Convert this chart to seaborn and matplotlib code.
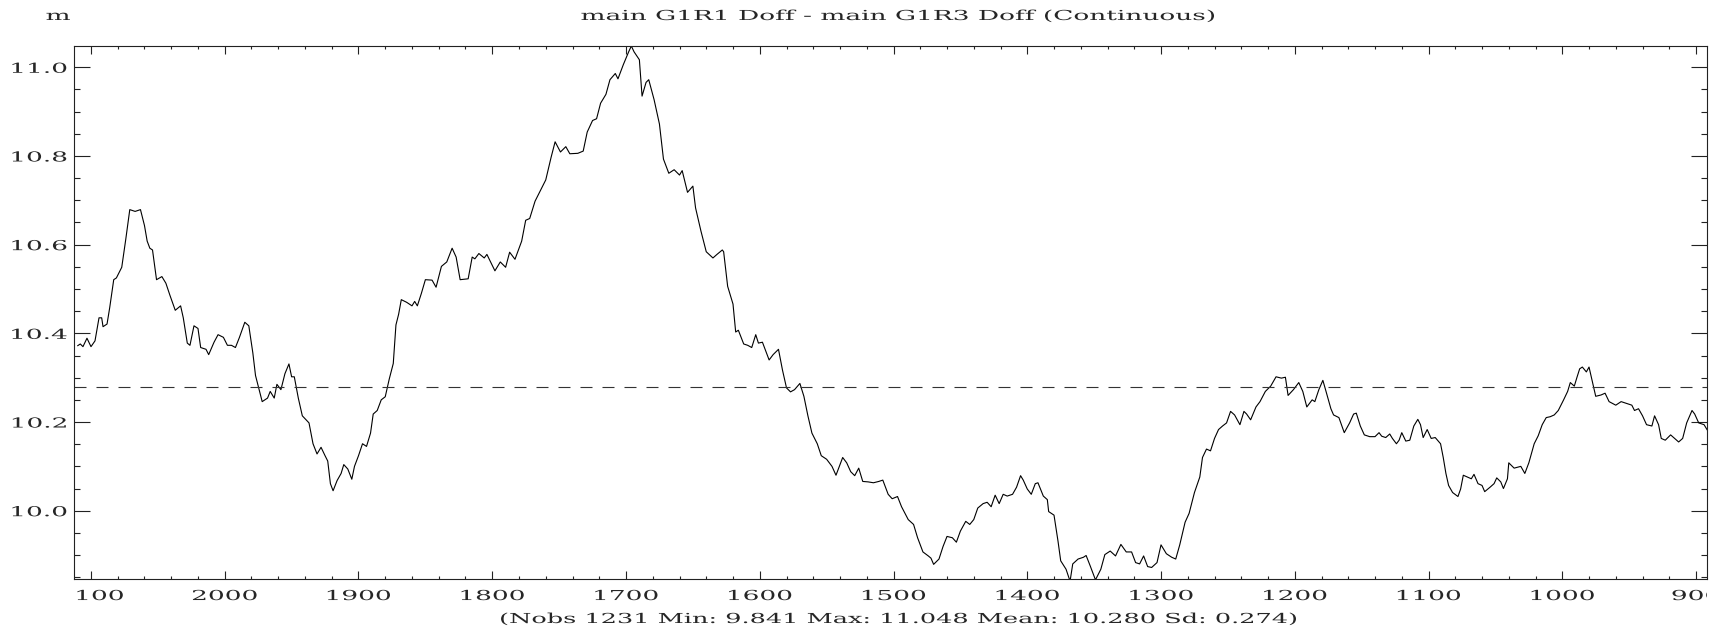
import numpy as np
import pandas as pd
import matplotlib
matplotlib.use("Agg")
import matplotlib.pyplot as plt
import seaborn as sns
from matplotlib.patheffects import AbstractPathEffect
from matplotlib.transforms import Affine2D, Bbox, TransformedBbox
from matplotlib.ticker import MultipleLocator, FixedLocator

# series, one block per stretch of the x axis (x runs backwards)
obs_2110 = [2110, 2108, 2106, 2103, 2100, 2097, 2094, 2092, 2091, 2088, 2086, 2083, 2081, 2077, 2074,
            2071, 2067, 2063, 2060, 2058, 2056, 2054, 2051, 2047, 2044, 2041, 2037, 2033, 2031, 2028,
            2026, 2023, 2020, 2018, 2014, 2012, 2008, 2005, 2001, 1998, 1995, 1992, 1989, 1985, 1982,
            1979, 1977, 1972, 1968, 1966, 1963, 1961, 1958, 1955, 1952, 1950, 1948, 1945, 1942, 1937,
            1934, 1931, 1928, 1925, 1923, 1921, 1919, 1916, 1913, 1911, 1908, 1905, 1903, 1900, 1897,
            1894, 1891, 1889, 1886, 1883, 1880, 1877]
val_2110 = [10.372, 10.376, 10.370, 10.389, 10.370, 10.383, 10.435, 10.435, 10.415, 10.421, 10.458, 10.521, 10.525, 10.549, 10.612,
            10.679, 10.675, 10.679, 10.643, 10.608, 10.592, 10.588, 10.521, 10.528, 10.513, 10.486, 10.452, 10.462, 10.435, 10.378,
            10.373, 10.417, 10.411, 10.368, 10.364, 10.352, 10.380, 10.397, 10.391, 10.373, 10.373, 10.368, 10.391, 10.425, 10.417,
            10.356, 10.305, 10.246, 10.254, 10.269, 10.254, 10.285, 10.273, 10.309, 10.331, 10.302, 10.302, 10.254, 10.214, 10.198,
            10.151, 10.128, 10.143, 10.124, 10.112, 10.061, 10.045, 10.068, 10.084, 10.104, 10.094, 10.071, 10.100, 10.124, 10.151,
            10.145, 10.175, 10.218, 10.226, 10.250, 10.257, 10.297]

obs_1874 = [1874, 1872, 1870, 1868, 1864, 1860, 1858, 1856, 1853, 1850, 1845, 1842, 1838, 1834, 1830,
            1827, 1824, 1818, 1815, 1813, 1810, 1806, 1804, 1800, 1798, 1794, 1790, 1787, 1783, 1778,
            1775, 1772, 1768, 1764, 1760, 1756, 1753, 1749, 1745, 1742, 1736, 1732, 1729, 1725, 1722,
            1719, 1715, 1712, 1708, 1706, 1702, 1698, 1696, 1694, 1690, 1688, 1685, 1683, 1679, 1675,
            1672, 1668, 1664, 1660, 1658, 1654, 1650, 1648, 1644, 1640, 1635, 1632, 1628]
val_1874 = [10.332, 10.419, 10.443, 10.476, 10.470, 10.462, 10.472, 10.462, 10.490, 10.521, 10.520, 10.504, 10.551, 10.561, 10.592,
            10.572, 10.521, 10.523, 10.572, 10.568, 10.580, 10.570, 10.578, 10.553, 10.541, 10.561, 10.549, 10.583, 10.567, 10.608,
            10.655, 10.659, 10.698, 10.722, 10.746, 10.797, 10.832, 10.809, 10.821, 10.805, 10.806, 10.811, 10.854, 10.880, 10.884,
            10.919, 10.939, 10.972, 10.986, 10.974, 11.006, 11.035, 11.048, 11.035, 11.017, 10.935, 10.966, 10.972, 10.927, 10.872,
            10.793, 10.761, 10.769, 10.757, 10.767, 10.718, 10.732, 10.683, 10.631, 10.584, 10.570, 10.578, 10.588]

obs_1627 = [1627, 1624, 1620, 1618, 1616, 1612, 1609, 1606, 1603, 1601, 1598, 1595, 1593, 1590, 1586,
            1583, 1580, 1577, 1574, 1570, 1567, 1564, 1561, 1557, 1554, 1550, 1546, 1543, 1538, 1535,
            1532, 1529, 1526, 1523, 1519, 1515, 1511, 1508, 1504, 1501, 1497, 1494, 1489, 1485, 1482,
            1478, 1474, 1472, 1470, 1466, 1463, 1460, 1456, 1453, 1450, 1446, 1443, 1440, 1437, 1433,
            1430, 1427, 1424, 1421, 1418, 1415, 1411, 1408, 1405, 1403, 1400, 1397, 1394, 1392, 1388, 1385]
val_1627 = [10.584, 10.506, 10.466, 10.403, 10.407, 10.376, 10.373, 10.368, 10.397, 10.378, 10.380, 10.356, 10.340, 10.352, 10.364,
            10.317, 10.277, 10.268, 10.273, 10.287, 10.258, 10.214, 10.175, 10.151, 10.124, 10.116, 10.100, 10.080, 10.120, 10.108,
            10.088, 10.079, 10.096, 10.066, 10.065, 10.063, 10.066, 10.069, 10.037, 10.027, 10.032, 10.009, 9.980, 9.969, 9.939,
            9.907, 9.898, 9.893, 9.879, 9.891, 9.919, 9.942, 9.939, 9.929, 9.954, 9.976, 9.969, 9.980, 10.006, 10.016,
            10.019, 10.009, 10.035, 10.016, 10.037, 10.033, 10.037, 10.053, 10.079, 10.069, 10.049, 10.037, 10.061, 10.063, 10.033, 10.025]

obs_1384 = [1384, 1380, 1377, 1375, 1371, 1368, 1366, 1362, 1358, 1356, 1353, 1349, 1345, 1342, 1338,
            1334, 1330, 1326, 1322, 1319, 1316, 1313, 1310, 1307, 1303, 1300, 1296, 1292, 1289, 1286,
            1282, 1279, 1275, 1271, 1269, 1266, 1263, 1260, 1257, 1254, 1251, 1248, 1245, 1241, 1238,
            1236, 1233, 1229, 1226, 1222, 1218, 1214, 1210, 1207, 1205, 1201, 1197, 1194, 1191, 1187,
            1185, 1182, 1179, 1177, 1173, 1171, 1167, 1163, 1159, 1156, 1154, 1151, 1148, 1144, 1140, 1137]
val_1384 = [9.998, 9.990, 9.931, 9.887, 9.868, 9.841, 9.880, 9.891, 9.895, 9.899, 9.876, 9.844, 9.868, 9.901, 9.909,
            9.898, 9.924, 9.907, 9.907, 9.883, 9.880, 9.898, 9.874, 9.872, 9.883, 9.923, 9.903, 9.895, 9.891, 9.923,
            9.974, 9.994, 10.041, 10.076, 10.120, 10.139, 10.135, 10.163, 10.183, 10.191, 10.198, 10.224, 10.216, 10.194, 10.224,
            10.218, 10.205, 10.234, 10.246, 10.269, 10.281, 10.302, 10.299, 10.301, 10.260, 10.273, 10.289, 10.269, 10.234, 10.250,
            10.246, 10.273, 10.294, 10.273, 10.230, 10.216, 10.210, 10.176, 10.198, 10.218, 10.220, 10.191, 10.171, 10.167, 10.167, 10.176]

obs_1135 = [1135, 1132, 1129, 1127, 1124, 1122, 1120, 1117, 1114, 1111, 1108, 1106, 1104, 1101, 1098,
            1095, 1091, 1089, 1087, 1085, 1082, 1078, 1076, 1074, 1071, 1068, 1066, 1063, 1060, 1058,
            1054, 1051, 1049, 1046, 1044, 1041, 1040, 1036, 1031, 1028, 1025, 1021, 1018, 1015, 1012,
            1009, 1006, 1003, 999, 996, 994, 991, 989, 987, 985, 982, 980, 977, 975, 971,
            968, 965, 960, 956, 952, 948, 946, 943, 940, 937, 933, 931, 928, 926, 923,
            919, 916, 913, 910, 907, 903, 901, 898, 894, 891]
val_1135 = [10.168, 10.165, 10.173, 10.163, 10.151, 10.159, 10.176, 10.157, 10.159, 10.191, 10.206, 10.194, 10.165, 10.183, 10.163,
            10.165, 10.151, 10.120, 10.084, 10.057, 10.041, 10.032, 10.049, 10.080, 10.076, 10.072, 10.082, 10.061, 10.057, 10.043,
            10.053, 10.061, 10.074, 10.065, 10.050, 10.072, 10.108, 10.096, 10.100, 10.084, 10.108, 10.151, 10.169, 10.194, 10.210,
            10.212, 10.216, 10.226, 10.250, 10.269, 10.289, 10.281, 10.301, 10.320, 10.324, 10.313, 10.324, 10.285, 10.258, 10.261,
            10.265, 10.246, 10.238, 10.246, 10.242, 10.238, 10.226, 10.230, 10.214, 10.194, 10.191, 10.214, 10.194, 10.163, 10.159,
            10.171, 10.163, 10.155, 10.163, 10.198, 10.226, 10.218, 10.198, 10.194, 10.179]

mean_value = 10.280
x_ticks = [2100, 2000, 1900, 1800, 1700, 1600, 1500, 1400, 1300, 1200, 1100, 1000, 900]
y_ticks = [10.0, 10.2, 10.4, 10.6, 10.8, 11.0]
title = "main G1R1 Doff - main G1R3 Doff (Continuous)"
unit = "m"
stats = "(Nobs 1231 Min: 9.841 Max: 11.048 Mean: 10.280 Sd: 0.274)"


class Stretch(AbstractPathEffect):
    # the source draws its (serif) text much wider than normal, so widen the glyph paths
    def __init__(self, sx, anchor="center"):
        super().__init__()
        self.sx = sx
        self.anchor = anchor

    def draw_path(self, renderer, gc, tpath, affine, rgbFace=None):
        ext = tpath.get_extents()
        if self.anchor == "left":
            c = ext.x0
        elif self.anchor == "right":
            c = ext.x1
        else:
            c = (ext.x0 + ext.x1) / 2
        st = Affine2D().translate(-c, 0).scale(self.sx, 1).translate(c, 0)
        renderer.draw_path(gc, tpath, st + affine, rgbFace)


segments = [(obs_2110, val_2110), (obs_1874, val_1874), (obs_1627, val_1627),
            (obs_1384, val_1384), (obs_1135, val_1135)]
for o, v in segments:
    assert len(o) == len(v)
df = pd.DataFrame({
    "obs": np.concatenate([o for o, _ in segments]),
    "value": np.concatenate([v for _, v in segments]),
})

sns.set_style("ticks")
plt.rcParams["font.family"] = "DejaVu Serif"
FS = 9.9
SX_TICK = 1.92
SX_TITLE = 1.92
SX_STATS = 1.86

fig = plt.figure(figsize=(17.15, 6.32), dpi=100)
ax = fig.add_axes([74 / 1715, 1 - 579.3 / 632, (1707 - 74) / 1715, (579.3 - 45.7) / 632])

sns.lineplot(data=df, x="obs", y="value", ax=ax, color="black", lw=0.8,
             estimator=None, sort=False)
ax.axhline(mean_value, color="#333333", lw=0.8, ls=(0, (10.8, 9)))

ax.set_xlim(2112.7, 891.8)
ax.set_ylim(9.8453, 11.0487)
ax.xaxis.set_major_locator(FixedLocator(x_ticks))
ax.xaxis.set_minor_locator(MultipleLocator(20))
ax.yaxis.set_major_locator(FixedLocator(y_ticks))
ax.yaxis.set_minor_locator(MultipleLocator(0.05))
ax.set_xticklabels([str(t) for t in x_ticks])
ax.set_yticklabels([f"{t:.1f}" for t in y_ticks])
ax.set_xlabel("")
ax.set_ylabel("")

ax.tick_params(axis="x", which="major", direction="in", length=6.1, width=0.8,
               top=True, bottom=True, pad=7, labelsize=FS, color="#222222")
ax.tick_params(axis="x", which="minor", direction="in", length=2.2, width=0.8,
               top=True, bottom=True, color="#222222")
ax.tick_params(axis="y", which="major", direction="in", length=11.5, width=0.8,
               left=True, right=True, pad=5, labelsize=FS, color="#222222")
ax.tick_params(axis="y", which="minor", direction="in", length=4.3, width=0.8,
               left=True, right=True, color="#222222")
for s in ax.spines.values():
    s.set_visible(True)
    s.set_linewidth(0.8)
    s.set_color("#222222")

# x labels at the ends get cut at the frame, like in the source
clip = TransformedBbox(Bbox([[0, -1], [1, 2]]), ax.transAxes)
for lab in ax.get_xticklabels():
    lab.set_path_effects([Stretch(SX_TICK, "center")])
    lab.set_clip_on(True)
    lab.set_clip_box(clip)
for lab in ax.get_yticklabels():
    lab.set_path_effects([Stretch(SX_TICK, "right")])

fig.text(46 / 1715, 1 - 20 / 632, unit, ha="left", va="baseline", fontsize=FS,
         path_effects=[Stretch(SX_TITLE, "left")])
fig.text(898 / 1715, 1 - 20 / 632, title, ha="center", va="baseline", fontsize=FS,
         path_effects=[Stretch(SX_TITLE, "center")])
fig.text(898 / 1715, 1 - 619 / 632, stats, ha="center", va="center", fontsize=FS,
         path_effects=[Stretch(SX_STATS, "center")])

fig.savefig("out.png", dpi=100, facecolor="white")
